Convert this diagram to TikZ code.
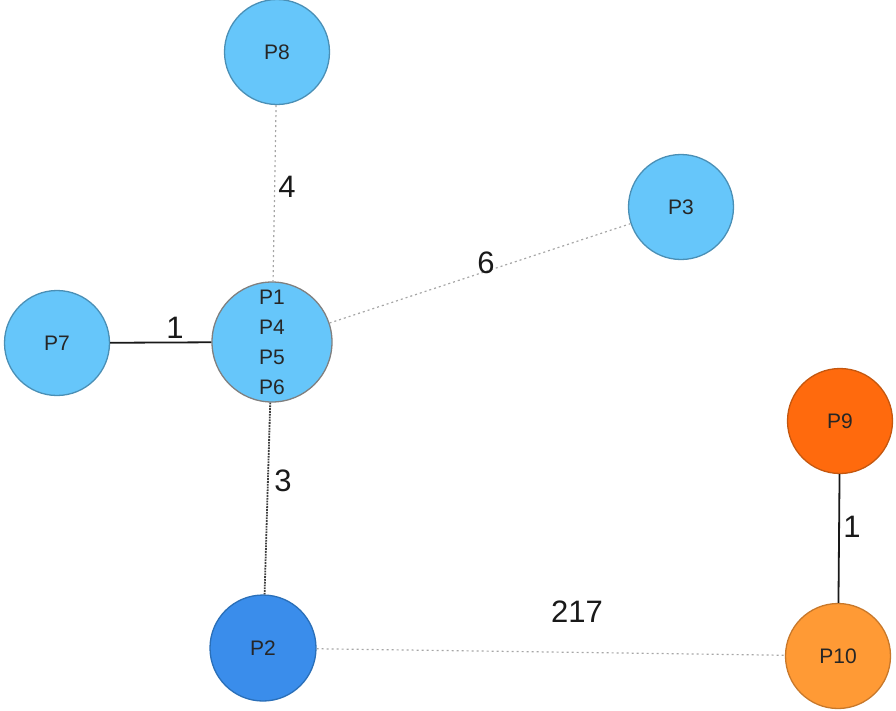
\documentclass[tikz,border=0pt]{standalone}
\usepackage{fontspec}
\setmainfont{Liberation Sans}
\begin{document}
\begin{tikzpicture}[x=1pt,y=-1pt,
  pnode/.style={circle,draw=#1,line width=1.3pt,inner sep=0pt,font=\fontsize{21}{30}\selectfont,text=black!85},
  lblue/.style={pnode=lbord,fill=lbfill,minimum size=105pt},
  elabel/.style={font=\fontsize{31}{31}\selectfont,text=black!90,inner sep=0pt},
  lightdot/.style={draw=black!35,line width=1.2pt,dash pattern=on 2pt off 3pt},
  darkdot/.style={draw=black!75,line width=1.8pt,densely dotted},
  solidline/.style={draw=black!90,line width=1.8pt}]
\definecolor{lbfill}{HTML}{66C6FA}
\definecolor{lbord}{HTML}{4A8FB5}
\definecolor{cbord}{HTML}{808080}
\definecolor{dbfill}{HTML}{3A8DEB}
\definecolor{dbord}{HTML}{2A6FB8}
\definecolor{orfill}{HTML}{FF6A0D}
\definecolor{orbord}{HTML}{C4570F}
\definecolor{lofill}{HTML}{FF9A35}
\definecolor{lobord}{HTML}{C8782A}
\useasboundingbox (0,0) rectangle (896,710);
\node[lblue] (p8) at (277,52) {P8};
\node[lblue] (p3) at (681,207) {P3};
\node[lblue] (p7) at (57,343) {P7};
\node[pnode=cbord,fill=lbfill,minimum size=120pt,align=center] (c) at (272,342) {P1\\P4\\P5\\P6};
\node[pnode=dbord,fill=dbfill,minimum size=106pt] (p2) at (263,648) {P2};
\node[pnode=orbord,fill=orfill,minimum size=105pt] (p9) at (840,421) {P9};
\node[pnode=lobord,fill=lofill,minimum size=105pt] (p10) at (838,656) {P10};
\draw[lightdot] (p8) -- (c);
\draw[lightdot] (c) -- (p3);
\draw[solidline] (p7) -- (c);
\draw[darkdot] (c) -- (p2);
\draw[lightdot] (p2) -- (p10);
\draw[solidline] (p9) -- (p10);
\node[elabel] (l4) at (287,187) {4};
\node[elabel] (l6) at (486,263) {6};
\node[elabel] (l1a) at (175,328) {1};
\node[elabel] (l3) at (283,481) {3};
\node[elabel] (l217) at (577,612) {217};
\node[elabel] (l1b) at (852,527) {1};
\end{tikzpicture}
\end{document}
